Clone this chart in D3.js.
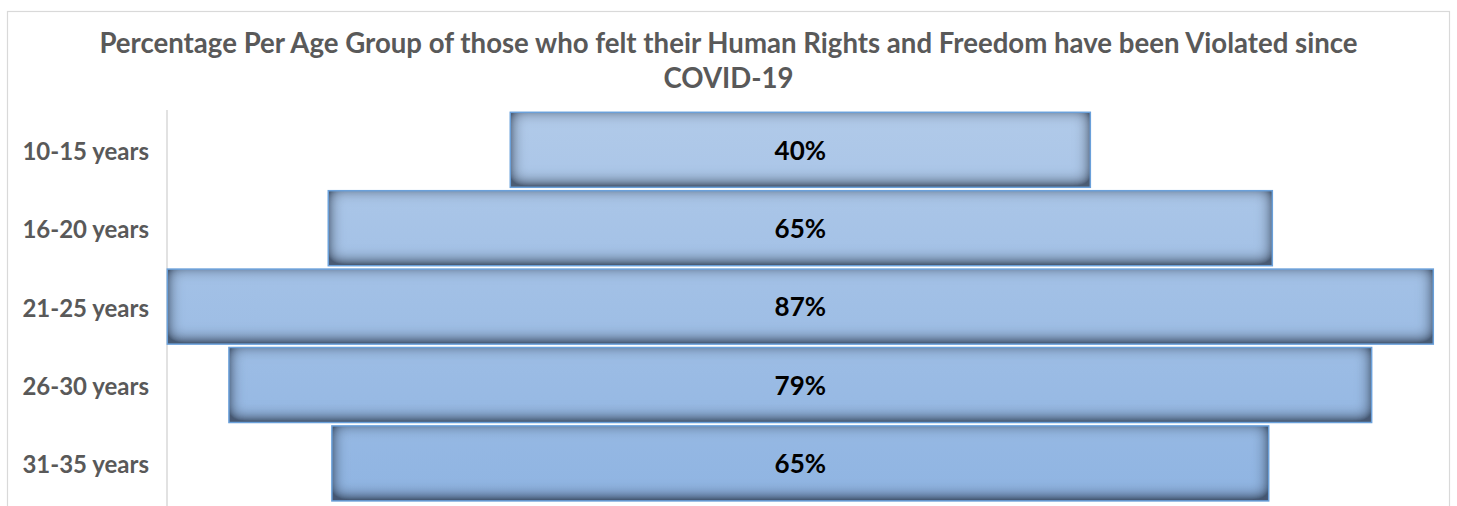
<!DOCTYPE html>
<html>
<head>
<meta charset="utf-8">
<script src="https://cdn.jsdelivr.net/npm/d3@7/dist/d3.min.js"></script>
<style>
    html, body { margin: 0; padding: 0; background: #fff; }
    svg { display: block; }
    text { font-family: Lato, "Open Sans", sans-serif; font-weight: bold; }
</style>
</head>
<body>
<div id="chart"></div>
<script>
// age groups, top to bottom
const categories = ["10-15 years", "16-20 years", "21-25 years", "26-30 years", "31-35 years"];
// share who felt rights were violated (%)
const values = [40.0, 65.1, 87.3, 78.8, 64.6];
const titleLines = [
    "Percentage Per Age Group of those who felt their Human Rights and Freedom have been Violated since",
    "COVID-19"
];

const width = 1457;
const height = 506;

const svg = d3.select("#chart").append("svg")
    .attr("width", width)
    .attr("height", height);

const defs = svg.append("defs");

// one gradient over the whole plot so lower bars come out a bit darker
const grad = defs.append("linearGradient")
    .attr("id", "barFill")
    .attr("gradientUnits", "userSpaceOnUse")
    .attr("x1", 0).attr("y1", 110)
    .attr("x2", 0).attr("y2", 502);
grad.append("stop").attr("offset", "0%").attr("stop-color", "#b1cae9");
grad.append("stop").attr("offset", "100%").attr("stop-color", "#8fb4e2");

// inner shadow, heavier along the bottom
const f = defs.append("filter")
    .attr("id", "inner")
    .attr("x", "-5%").attr("y", "-10%")
    .attr("width", "110%").attr("height", "120%");
f.append("feOffset").attr("in", "SourceAlpha").attr("dx", 0).attr("dy", -3).attr("result", "off");
f.append("feGaussianBlur").attr("in", "off").attr("stdDeviation", 8).attr("result", "blur");
f.append("feComposite")
    .attr("operator", "arithmetic")
    .attr("k2", -1.7).attr("k3", 1.7)
    .attr("in", "blur").attr("in2", "SourceAlpha")
    .attr("result", "edge");
f.append("feFlood").attr("flood-color", "#33435b").attr("flood-opacity", 0.9).attr("result", "col");
f.append("feComposite").attr("operator", "in").attr("in", "col").attr("in2", "edge").attr("result", "shadow");
f.append("feComposite").attr("operator", "over").attr("in", "shadow").attr("in2", "SourceGraphic");

// chart frame
svg.append("rect")
    .attr("x", 7.5).attr("y", 11.5)
    .attr("width", 1442).attr("height", 520)
    .attr("fill", "none")
    .attr("stroke", "#d9d9d9")
    .attr("stroke-width", 1.2);

// title
svg.append("text")
    .attr("x", 728.5)
    .attr("text-anchor", "middle")
    .attr("fill", "#595959")
    .style("font-size", "27.6px")
    .selectAll("tspan")
    .data(titleLines)
    .enter()
    .append("tspan")
    .attr("x", 728.5)
    .attr("y", function(d, i) { return 53 + i * 35; })
    .text(function(d) { return d; });

const maxV = d3.max(values);

const x = d3.scaleLinear()
    .domain([-maxV, maxV])
    .range([167.3, 1433.3]);

const y = d3.scaleBand()
    .domain(categories)
    .range([110.6, 502.6])
    .paddingInner(0.043)
    .paddingOuter(0.0215);

const rows = categories.map(function(c, i) { return { cat: c, v: values[i] }; });

// category axis
const yAxis = d3.axisLeft(y).tickSize(0).tickPadding(18);
const ax = svg.append("g")
    .attr("transform", "translate(167,0)")
    .call(yAxis);
ax.select(".domain")
    .attr("d", "M0,110V" + height)
    .attr("stroke", "#d9d9d9")
    .attr("stroke-width", 1.5);
ax.selectAll(".tick text")
    .attr("fill", "#595959")
    .attr("dy", "0.42em")
    .style("font-size", "24px")
    .style("font-family", "Lato, sans-serif");

// bars
svg.append("g").selectAll("rect")
    .data(rows)
    .enter()
    .append("rect")
    .attr("x", function(d) { return x(-d.v); })
    .attr("y", function(d) { return y(d.cat); })
    .attr("width", function(d) { return x(d.v) - x(-d.v); })
    .attr("height", y.bandwidth())
    .attr("fill", "url(#barFill)")
    .attr("filter", "url(#inner)");

svg.append("g").selectAll("rect")
    .data(rows)
    .enter()
    .append("rect")
    .attr("x", function(d) { return x(-d.v); })
    .attr("y", function(d) { return y(d.cat); })
    .attr("width", function(d) { return x(d.v) - x(-d.v); })
    .attr("height", y.bandwidth())
    .attr("fill", "none")
    .attr("stroke", "#6aa0da")
    .attr("stroke-width", 1.5);

// value labels
svg.append("g").selectAll("text")
    .data(rows)
    .enter()
    .append("text")
    .attr("x", x(0))
    .attr("y", function(d) { return y(d.cat) + y.bandwidth() / 2; })
    .attr("dy", "0.38em")
    .attr("text-anchor", "middle")
    .attr("fill", "#000")
    .style("font-size", "26px")
    .text(function(d) { return Math.round(d.v) + "%"; });
</script>
</body>
</html>
